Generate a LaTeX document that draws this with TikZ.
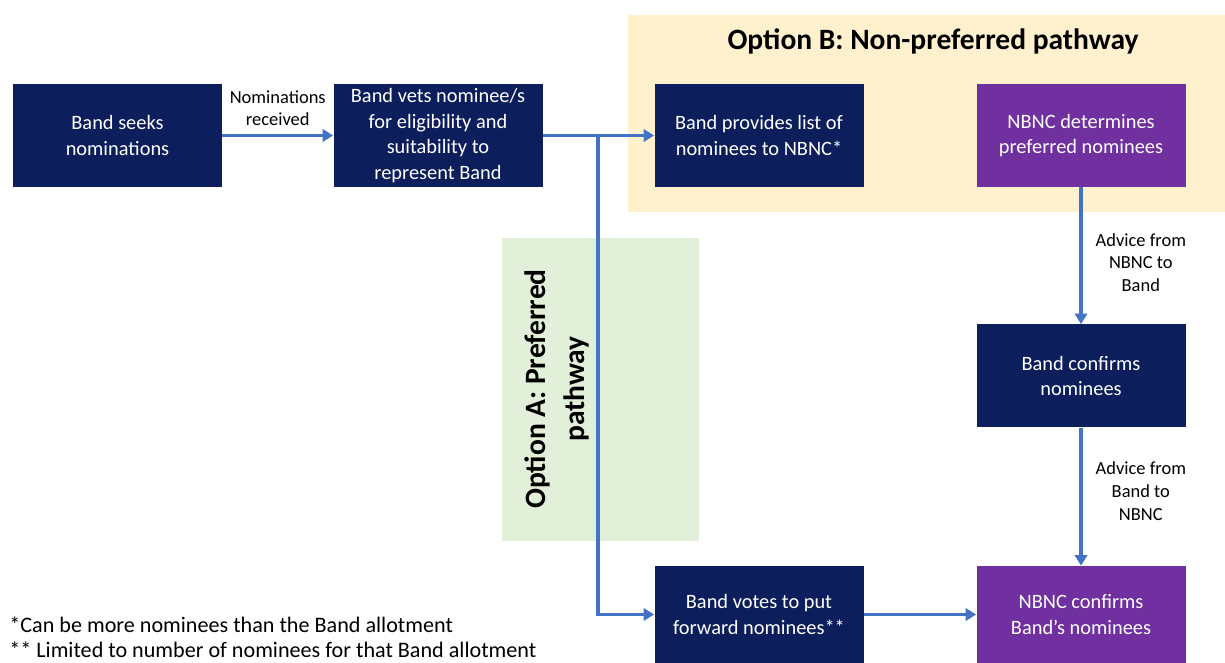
\documentclass[tikz,border=0pt]{standalone}
\usepackage{fontspec}
\setmainfont{Carlito}
\usetikzlibrary{positioning, calc, arrows.meta}

\definecolor{navy}{RGB}{12,30,92}
\definecolor{nbncpurple}{RGB}{112,48,160}
\definecolor{flowblue}{RGB}{68,114,196}
\definecolor{optbfill}{RGB}{255,241,206}
\definecolor{optafill}{RGB}{226,239,217}

\tikzset{
    stepbox/.style={fill=navy, text=white, minimum width=4.18cm, minimum height=2.06cm,
        align=center, font=\fontsize{11.6}{14.5}\selectfont, inner sep=2pt},
    nbncbox/.style={stepbox, fill=nbncpurple},
    flow/.style={-{Triangle[length=6pt,width=7pt]}, flowblue, line width=2pt},
    flowlabel/.style={font=\fontsize{10.5}{13}\selectfont, align=center, text=black}
}

\begin{document}
\begin{tikzpicture}

    \useasboundingbox (0,0) rectangle (24.5,-13.26);

    % option panels
    \fill[optbfill] (12.56,-0.30) rectangle (24.5,-4.24);
    \fill[optafill] (10.04,-4.76) rectangle (13.98,-10.82);
    \node[font=\fontsize{16.8}{19}\selectfont\bfseries] (optb) at (18.66,-0.82) {Option B: Non-preferred pathway};
    \node[font=\fontsize{16.8}{22}\selectfont\bfseries, align=center, rotate=90] (opta) at (11.14,-7.78)
        {Option A: Preferred\\pathway};

    % steps
    \node[stepbox] (seek) at (2.35,-2.71) {Band seeks\\nominations};
    \node[stepbox] (vets) at (8.76,-2.71) {Band vets nominee/s\\for eligibility and\\suitability to\\represent Band};
    \node[stepbox] (list) at (15.18,-2.71) {Band provides list of\\nominees to NBNC*};
    \node[nbncbox] (determine) at (21.62,-2.71) {NBNC determines\\preferred nominees};
    \node[stepbox] (bandconfirm) at (21.62,-7.52) {Band confirms\\nominees};
    \node[stepbox, minimum height=1.94cm] (votes) at (15.18,-12.29) {Band votes to put\\forward nominees**};
    \node[nbncbox, minimum height=1.94cm] (nbncconfirm) at (21.62,-12.29) {NBNC confirms\\Band’s nominees};

    % connectors
    \coordinate (split) at (11.96,-2.71);
    \draw[flow] (seek) -- (vets) node[midway, above=1pt, flowlabel] {Nominations\\received};
    \draw[flow] (vets) -- (list);
    \draw[flow] (split) |- (votes);
    \draw[flow] (determine) -- (bandconfirm) node[pos=0.55, right=4pt, flowlabel] {Advice from\\NBNC to\\Band};
    \draw[flow] (bandconfirm) -- (nbncconfirm) node[pos=0.46, right=4pt, flowlabel] {Advice from\\Band to\\NBNC};
    \draw[flow] (votes) -- (nbncconfirm);

    % footnotes
    \node[anchor=north west, align=left, inner sep=0pt, font=\fontsize{12.6}{14.2}\selectfont] (notes) at (0.18,-12.32)
        {*Can be more nominees than the Band allotment\\** Limited to number of nominees for that Band allotment};

\end{tikzpicture}
\end{document}
